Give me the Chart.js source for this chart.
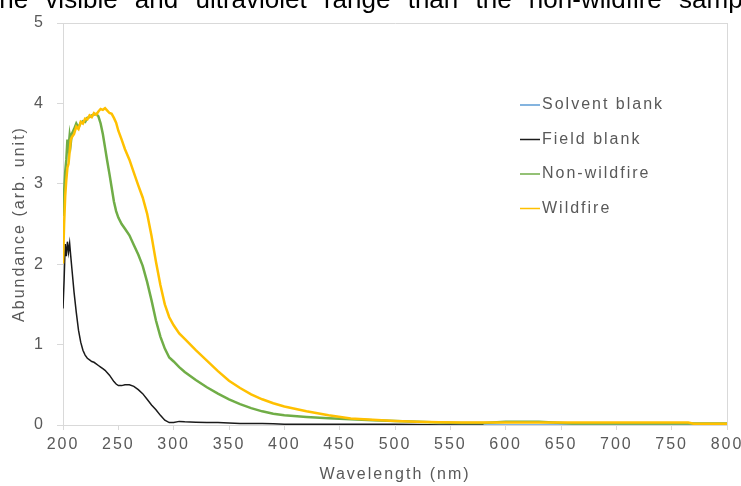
<!DOCTYPE html>
<html>
<head>
<meta charset="utf-8">
<script src="https://cdn.jsdelivr.net/npm/chart.js@4.4.0/dist/chart.umd.min.js"></script>
<style>
    html, body { margin: 0; padding: 0; background: #fff; }
    #wrap { position: relative; width: 741px; height: 486px; overflow: hidden; }
    #caption {
        position: absolute; left: -8px; top: -14px; white-space: nowrap; word-spacing: 10px;
        font: 26px "Liberation Sans", Arial, sans-serif; line-height: 26px; color: #000;
    }
    #chart { position: absolute; left: 0; top: 0; }
</style>
</head>
<body>
<div id="wrap">
    <canvas id="chart" width="741" height="486"></canvas>
    <div id="caption">the visible and ultraviolet range than the non-wildfire samples</div>
</div>
<script>
// Данные
const wavelengths = [200, 201, 202, 203, 204, 205, 206, 207, 208, 210, 212, 214, 216, 218, 220, 222, 224, 226, 228, 230,
    232, 234, 236, 238, 240, 242, 244, 246, 248, 250, 253, 256, 260, 264, 268, 272, 276, 280, 284, 288,
    292, 296, 300, 305, 310, 320, 330, 340, 350, 360, 370, 380, 390, 400, 420, 440, 460, 480, 500, 520,
    540, 560, 580, 600, 630, 660, 700, 730, 765, 770, 800];

const solventBlank = [null, null, null, null, null, null, null, null, null, null, null, null, null, null, null, null, null, null, null, null,
    null, null, null, null, null, null, null, null, null, null, null, null, null, null, null, null, -0.02, -0.02, -0.02, -0.02,
    -0.02, -0.02, -0.02, -0.015, -0.015, -0.015, -0.015, -0.015, -0.015, -0.015, -0.015, -0.015, -0.01, -0.005, 0, 0, 0, 0, 0, 0,
    0, 0, 0, 0, 0, 0, 0, 0, 0, 0, 0];

const fieldBlank = [1.45, 1.8, 2.25, 2.1, 2.28, 2.15, 2.26, 2.1, 1.95, 1.65, 1.40, 1.18, 1.03, 0.93, 0.87, 0.83, 0.81, 0.79, 0.78, 0.76,
    0.74, 0.72, 0.70, 0.68, 0.65, 0.62, 0.58, 0.54, 0.51, 0.49, 0.49, 0.50, 0.50, 0.48, 0.44, 0.39, 0.32, 0.25, 0.19, 0.12,
    0.06, 0.03, 0.03, 0.045, 0.04, 0.035, 0.03, 0.03, 0.025, 0.02, 0.02, 0.02, 0.015, 0.01, 0.01, 0.01, 0.01, 0.01, 0.01, 0.005,
    0, 0, 0, null, null, null, null, null, null, null, null];

const nonWildfire = [2.6, 2.9, 3.15, 3.3, 3.55, 3.45, 3.6, 3.5, 3.62, 3.68, 3.75, 3.70, 3.76, 3.78, 3.77, 3.82, 3.83, 3.85, 3.86, 3.87,
    3.84, 3.75, 3.62, 3.45, 3.28, 3.12, 2.95, 2.78, 2.66, 2.58, 2.50, 2.44, 2.36, 2.24, 2.12, 1.98, 1.78, 1.55, 1.30, 1.10,
    0.95, 0.84, 0.79, 0.72, 0.66, 0.56, 0.47, 0.39, 0.32, 0.26, 0.21, 0.17, 0.14, 0.12, 0.10, 0.085, 0.07, 0.06, 0.05, 0.04,
    0.03, 0.025, 0.025, 0.04, 0.04, 0.02, 0.02, 0.02, 0.02, 0.02, 0.02];

const wildfire = [2.01, 2.5, 2.85, 3.05, 3.2, 3.25, 3.4, 3.55, 3.58, 3.62, 3.71, 3.68, 3.77, 3.75, 3.81, 3.80, 3.85, 3.83, 3.88, 3.86,
    3.90, 3.93, 3.92, 3.94, 3.91, 3.88, 3.87, 3.82, 3.76, 3.66, 3.55, 3.43, 3.30, 3.14, 2.98, 2.83, 2.63, 2.35, 2.03, 1.74,
    1.50, 1.34, 1.24, 1.14, 1.07, 0.93, 0.80, 0.67, 0.55, 0.46, 0.38, 0.32, 0.27, 0.23, 0.17, 0.12, 0.08, 0.065, 0.05, 0.04,
    0.035, 0.03, 0.03, 0.03, 0.03, 0.03, 0.03, 0.03, 0.03, 0.015, 0.015];

const seriesNames = ['Solvent blank', 'Field blank', 'Non-wildfire', 'Wildfire'];
const seriesValues = [solventBlank, fieldBlank, nonWildfire, wildfire];
const seriesColors = ['#5B9BD5', '#1a1a1a', '#70AD47', '#FFC000'];
const seriesWidths = [1.5, 1.5, 2.5, 2.5];

const xMin = 200, xMax = 800, xStep = 50;
const yMin = 0, yMax = 5, yStep = 1;

const axisColor = '#d9d9d9';
const textColor = '#595959';
const fontFamily = '"Liberation Sans", Arial, sans-serif';

// Межбуквенный интервал для подписей на холсте
const spacingPlugin = {
    id: 'spacing',
    beforeLayout(chart) { chart.ctx.letterSpacing = '2px'; },
    beforeDraw(chart) { chart.ctx.letterSpacing = '2px'; }
};

// Легенда внутри области графика
const lineLegend = {
    id: 'lineLegend',
    afterDraw(chart) {
        const ctx = chart.ctx;
        ctx.save();
        ctx.letterSpacing = '2px';
        ctx.font = '16px ' + fontFamily;
        ctx.textBaseline = 'middle';
        ctx.textAlign = 'left';
        chart.data.datasets.forEach((ds, i) => {
            const y = 105 + i * 34.5;
            ctx.strokeStyle = ds.borderColor;
            ctx.lineWidth = 1.5;
            ctx.beginPath();
            ctx.moveTo(520, y);
            ctx.lineTo(540, y);
            ctx.stroke();
            ctx.fillStyle = textColor;
            ctx.fillText(ds.label, 542, y);
        });
        ctx.restore();
    }
};

const datasets = seriesNames.map((name, i) => ({
    label: name,
    data: wavelengths.map((x, j) => ({ x: x, y: seriesValues[i][j] })),
    borderColor: seriesColors[i],
    borderWidth: seriesWidths[i],
    pointRadius: 0,
    fill: false,
    tension: 0,
    spanGaps: false,
    order: seriesNames.length - i
}));

new Chart(document.getElementById('chart').getContext('2d'), {
    type: 'line',
    data: { datasets: datasets },
    options: {
        responsive: false,
        animation: false,
        layout: { padding: { top: 23, right: 14, left: 0, bottom: 0 } },
        plugins: {
            legend: { display: false },
            tooltip: { enabled: false }
        },
        scales: {
            x: {
                type: 'linear',
                min: xMin,
                max: xMax,
                afterFit(scale) { scale.height = 61; scale.paddingLeft = 0; scale.paddingRight = 0; },
                ticks: {
                    stepSize: xStep,
                    color: textColor,
                    font: { family: fontFamily, size: 16 },
                    padding: 5,
                    maxRotation: 0,
                    autoSkip: false
                },
                grid: {
                    color: ctx => (ctx.tick && ctx.tick.value === xMax) ? axisColor : 'rgba(0,0,0,0)',
                    tickColor: axisColor,
                    tickLength: 5,
                    lineWidth: 1
                },
                border: { color: axisColor, width: 1 },
                title: {
                    display: true,
                    text: 'Wavelength (nm)',
                    color: textColor,
                    font: { family: fontFamily, size: 16 },
                    padding: { top: 0, bottom: 2 }
                }
            },
            y: {
                min: yMin,
                max: yMax,
                afterFit(scale) { scale.width = 63; scale.paddingTop = 0; scale.paddingBottom = 0; },
                ticks: {
                    stepSize: yStep,
                    color: textColor,
                    font: { family: fontFamily, size: 16 },
                    padding: 12
                },
                grid: {
                    color: ctx => (ctx.tick && ctx.tick.value === yMax) ? axisColor : 'rgba(0,0,0,0)',
                    tickColor: axisColor,
                    tickLength: 6,
                    lineWidth: 1
                },
                border: { color: axisColor, width: 1 },
                title: {
                    display: true,
                    text: 'Abundance (arb. unit)',
                    color: textColor,
                    font: { family: fontFamily, size: 16 },
                    padding: { top: 10, bottom: 0 }
                }
            }
        }
    },
    plugins: [spacingPlugin, lineLegend]
});
</script>
</body>
</html>
